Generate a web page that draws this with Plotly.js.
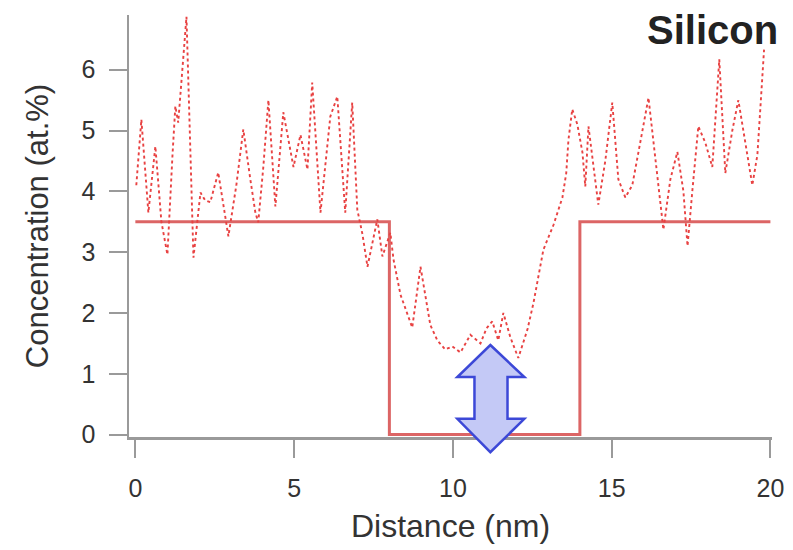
<!DOCTYPE html>
<html>
<head>
<meta charset="utf-8">
<script src="https://cdn.plot.ly/plotly-3.0.1.min.js"></script>
<style>html,body{margin:0;padding:0;background:#fff;}#chart{width:793px;height:550px;}</style>
</head>
<body>
<div id="chart"></div>
<script>
// Measured silicon concentration profile (dotted)
const distance = [0.03,0.19,0.41,0.63,0.82,1.01,1.17,1.26,1.35,1.61,1.83,2.05,2.2,2.36,2.61,2.93,3.18,3.40,3.62,3.78,3.87,4.03,4.19,4.41,4.66,4.98,5.20,5.42,5.57,5.83,6.14,6.36,6.61,6.83,6.99,7.15,7.31,7.62,7.78,8.03,8.13,8.35,8.72,8.98,9.29,9.51,9.76,9.98,10.24,10.55,10.87,11.06,11.24,11.43,11.59,11.81,12.06,12.35,12.54,12.76,12.85,13.17,13.45,13.57,13.64,13.76,13.92,14.08,14.17,14.27,14.39,14.58,14.80,15.02,15.21,15.43,15.65,15.84,15.97,16.16,16.38,16.63,16.85,17.07,17.26,17.39,17.54,17.73,17.95,18.17,18.39,18.58,18.80,18.99,19.21,19.43,19.59,19.80];
const concentration = [4.1,5.18,3.65,4.74,3.5,2.96,4.6,5.4,5.13,6.87,2.91,3.98,3.85,3.82,4.31,3.26,4.1,5.02,4.2,3.65,3.49,4.4,5.5,3.75,5.3,4.4,4.93,4.36,5.79,3.65,5.23,5.56,3.65,5.46,3.7,3.3,2.76,3.54,2.93,3.32,2.88,2.3,1.76,2.76,1.8,1.55,1.4,1.45,1.35,1.64,1.5,1.75,1.86,1.55,2.0,1.6,1.26,1.73,2.17,2.76,3.04,3.45,3.9,4.3,4.85,5.35,5.1,4.64,4.08,5.07,4.6,3.78,4.5,5.46,4.2,3.9,4.1,4.6,5.0,5.54,4.5,3.37,4.2,4.65,4.0,3.1,4.0,5.07,4.8,4.4,6.17,4.3,5.0,5.5,4.8,4.1,4.6,6.33];
// Nominal (designed) profile (solid step)
const stepX = [0,8,8,14,14,20];
const stepY = [3.5,3.5,0,0,3.5,3.5];
const xTicks = [0,5,10,15,20];
const yTicks = [0,1,2,3,4,5,6];

const fontFam = '"Liberation Sans", Arial, sans-serif';

const traces = [
  {x: stepX, y: stepY, mode: 'lines', line: {color: 'rgba(216,84,84,0.9)', width: 3}, hoverinfo: 'skip'},
  {x: distance, y: concentration, mode: 'lines', line: {color: 'rgb(232,66,66)', width: 1.9, dash: 'dot'}, hoverinfo: 'skip'}
];

// arrow (x in data units, y in paper units)
const ax = {tip: 11.18, hl: 10.14, hr: 12.25, sl: 10.68, sr: 11.72};
const ay = {top: 0.218, hb1: 0.142, hb2: 0.043, bot: -0.036};
const arrowPath = `M ${ax.tip} ${ay.top} L ${ax.hr} ${ay.hb1} L ${ax.sr} ${ay.hb1} L ${ax.sr} ${ay.hb2} L ${ax.hr} ${ay.hb2} L ${ax.tip} ${ay.bot} L ${ax.hl} ${ay.hb2} L ${ax.sl} ${ay.hb2} L ${ax.sl} ${ay.hb1} L ${ax.hl} ${ay.hb1} Z`;

const layout = {
  width: 793, height: 550,
  margin: {l: 129, r: 21, t: 15, b: 113},
  paper_bgcolor: '#fff', plot_bgcolor: '#fff',
  showlegend: false,
  font: {family: fontFam, color: '#333'},
  xaxis: {
    range: [-0.2, 20.05], tickvals: xTicks, ticktext: xTicks.map(String),
    showgrid: false, zeroline: false, showline: true, linecolor: '#9a9a9a', linewidth: 2.5,
    ticks: 'outside', ticklen: 18, tickwidth: 2, tickcolor: '#9a9a9a',
    ticklabelstandoff: 9,
    tickfont: {size: 25, color: '#333', family: fontFam},
    title: {text: 'Distance (nm)', font: {size: 32, color: '#333', family: fontFam}, standoff: 14}
  },
  yaxis: {
    range: [-0.04, 6.9], tickvals: yTicks, ticktext: yTicks.map(String),
    showgrid: false, zeroline: false, showline: true, linecolor: '#9a9a9a', linewidth: 2.5,
    ticks: 'outside', ticklen: 18, tickwidth: 2, tickcolor: '#9a9a9a',
    ticklabelstandoff: 8,
    tickfont: {size: 25, color: '#333', family: fontFam},
    title: {text: 'Concentration (at.%)', font: {size: 31, color: '#333', family: fontFam}, standoff: 24}
  },
  shapes: [{
    type: 'path', xref: 'x', yref: 'paper', path: arrowPath,
    fillcolor: 'rgb(196,201,246)', line: {color: 'rgb(60,72,215)', width: 2.5}, layer: 'above'
  }],
  annotations: [{
    xref: 'paper', yref: 'paper', x: 1.0124, y: 0.964, xanchor: 'right', yanchor: 'middle',
    text: '<b>Silicon</b>', showarrow: false, font: {size: 40, color: '#222', family: fontFam}
  }]
};

Plotly.newPlot('chart', traces, layout, {staticPlot: true});
</script>
</body>
</html>
